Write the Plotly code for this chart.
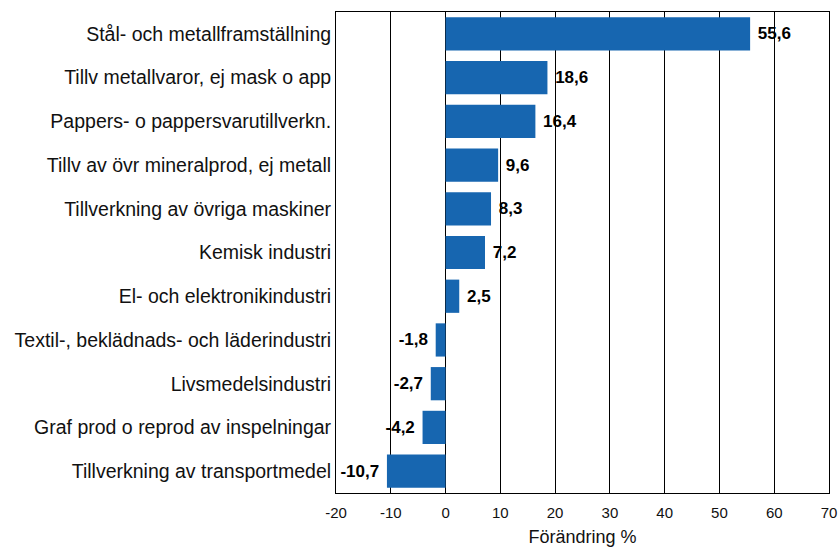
import plotly.graph_objects as go

categories = [
    "Stål- och metallframställning",
    "Tillv metallvaror, ej mask o app",
    "Pappers- o pappersvarutillverkn.",
    "Tillv av övr mineralprod, ej metall",
    "Tillverkning av övriga maskiner",
    "Kemisk industri",
    "El- och elektronikindustri",
    "Textil-, beklädnads- och läderindustri",
    "Livsmedelsindustri",
    "Graf prod o reprod av inspelningar",
    "Tillverkning av transportmedel",
]
values = [55.6, 18.6, 16.4, 9.6, 8.3, 7.2, 2.5, -1.8, -2.7, -4.2, -10.7]
tick_vals = [-20, -10, 0, 10, 20, 30, 40, 50, 60, 70]
x_title = "Förändring %"

labels = [
    (" " + f"{v:.1f}".replace(".", ",")) if v >= 0 else (f"{v:.1f}".replace(".", ",") + " ")
    for v in values
]

fig = go.Figure(go.Bar(
    y=categories,
    x=values,
    orientation="h",
    marker=dict(color="#1766B0", line=dict(width=0)),
    text=labels,
    textposition="outside",
    cliponaxis=False,
    textfont=dict(family="Liberation Sans Narrow, Arial Narrow, Liberation Sans", size=17, color="black", weight="bold"),
))

fig.update_layout(
    width=839, height=547,
    margin=dict(l=336, r=10, t=12, b=54),
    paper_bgcolor="white",
    plot_bgcolor="white",
    bargap=0.24,
    showlegend=False,
    uniformtext=dict(minsize=17, mode="show"),
    font=dict(family="Liberation Sans, Arial", size=14, color="#111"),
)
fig.update_xaxes(
    range=[-20, 70],
    tickvals=tick_vals,
    ticktext=[str(t) for t in tick_vals],
    showgrid=True, gridcolor="black", gridwidth=1,
    zeroline=False,
    showline=True, linecolor="black", linewidth=1, mirror=True,
    ticks="",
    automargin=False,
    ticklabelstandoff=6,
    title=dict(text=x_title, standoff=15, font=dict(size=18)),
    tickfont=dict(size=15),
)
fig.update_yaxes(
    categoryorder="array",
    categoryarray=categories[::-1],
    showgrid=False, zeroline=False,
    showline=True, linecolor="black", linewidth=1, mirror=True,
    ticks="",
    automargin=False,
    ticklabelstandoff=0,
    tickfont=dict(size=19.5),
)

fig.write_html(
    "out.html",
    config={"displayModeBar": False},
    post_script="document.body.style.margin='0';document.body.style.overflow='hidden';",
)
